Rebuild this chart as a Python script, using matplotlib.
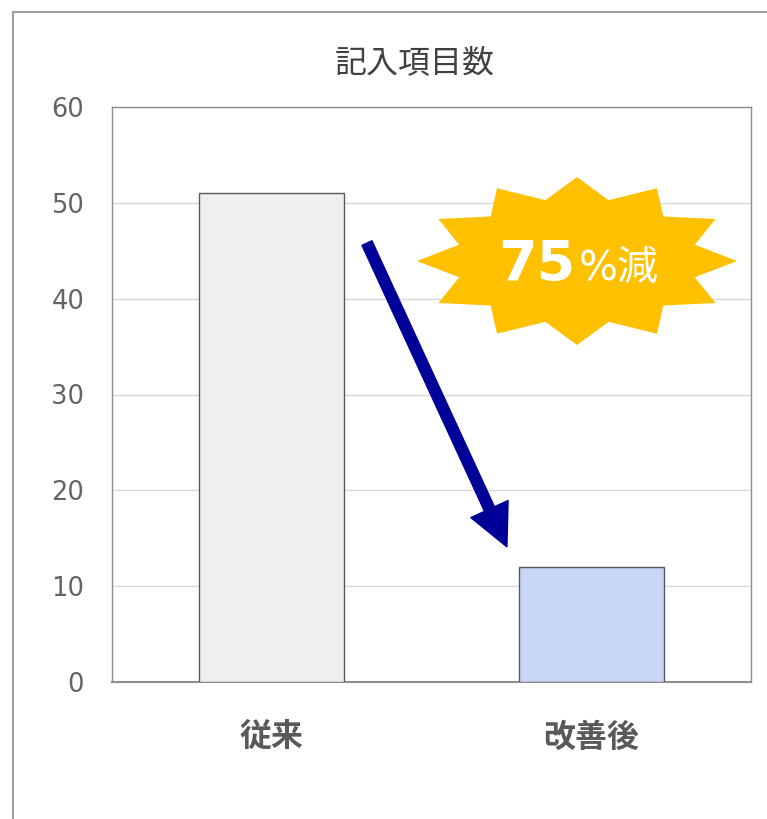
import numpy as np
import matplotlib
matplotlib.use("Agg")
import matplotlib.pyplot as plt
from matplotlib.patches import Polygon, Rectangle, FancyArrowPatch

# ---- data ----
title = "記入項目数"
categories = ["従来", "改善後"]
values = [51, 12]
yticks = [0, 10, 20, 30, 40, 50, 60]
badge_big = "75"
badge_small = "%減"

bar_colors = ["#EFEFEF", "#C9D5F5"]

plt.rcParams['font.family'] = ['Noto Sans CJK JP', 'DejaVu Sans']

W, H = 767, 819
fig = plt.figure(figsize=(W / 100, H / 100), dpi=100)
fig.patch.set_facecolor("white")

def fx(px):
    return px / W

def fy(py):
    return (H - py) / H

# outer frame (extends beyond right/bottom edges)
fig.patches.append(Rectangle((fx(13), fy(900)), fx(900), fy(12) - fy(900),
                             transform=fig.transFigure, fill=False,
                             edgecolor="#A0A0A0", linewidth=1.5, zorder=0))

ax = fig.add_axes([fx(112), fy(682), fx(751) - fx(112), fy(107) - fy(682)])
x = np.arange(len(categories))
ax.bar(x, values, width=0.454, color=bar_colors, edgecolor="#5A5A5A",
       linewidth=1.0, zorder=3)
ax.set_xlim(-0.5, len(categories) - 0.5)
ax.set_ylim(0, 60)
ax.set_yticks(yticks)
ax.set_yticklabels([str(t) for t in yticks], family=['DejaVu Sans'],
                   fontsize=18.5, color="#636363")
ax.yaxis.grid(True, color="#D9D9D9", linewidth=1.0, zorder=0)
ax.set_axisbelow(True)
ax.tick_params(axis='y', length=0, pad=20)
ax.tick_params(axis='x', length=0, pad=29)
ax.set_xticks(x)
ax.set_xticklabels(categories, fontsize=23, fontweight='bold', color="#595959")
for s in ['left', 'top', 'right']:
    ax.spines[s].set_color("#8C8C8C")
    ax.spines[s].set_linewidth(1.0)
ax.spines['bottom'].set_color("#8C8C8C")
ax.spines['bottom'].set_linewidth(1.5)

fig.text(fx(415), fy(63), title, ha='center', va='center', fontsize=23,
         color="#404040")

# arrow from first bar toward second bar
arrow = FancyArrowPatch((0.298, 45.8), (0.736, 14.1),
                        arrowstyle="simple,head_length=30,head_width=29.5,tail_width=7.9",
                        mutation_scale=1, color="#000099", shrinkA=0, shrinkB=0,
                        zorder=5)
ax.add_patch(arrow)

# starburst badge (12 points, elliptical)
cx, cy = 577, 261
rxo, ryo, rxi, ryi = 160, 84, 122, 63
pts = []
for k in range(24):
    ang = np.deg2rad(k * 15)
    if k % 2 == 0:
        px_, py_ = cx + rxo * np.cos(ang), cy - ryo * np.sin(ang)
    else:
        px_, py_ = cx + rxi * np.cos(ang), cy - ryi * np.sin(ang)
    pts.append((fx(px_), fy(py_)))
fig.patches.append(Polygon(pts, closed=True, transform=fig.transFigure,
                           facecolor="#FFC000", edgecolor="none", zorder=6))

fig.text(fx(576), fy(280), badge_big, ha='right', va='baseline',
         fontsize=40, fontweight='bold', color="white",
         family=['DejaVu Sans'], zorder=7)
fig.text(fx(579), fy(280), badge_small, ha='left', va='baseline',
         fontsize=29.5, color="white", family=['DejaVu Sans', 'Noto Sans CJK JP'],
         zorder=7)

fig.savefig("out.png", dpi=100, facecolor="white")
